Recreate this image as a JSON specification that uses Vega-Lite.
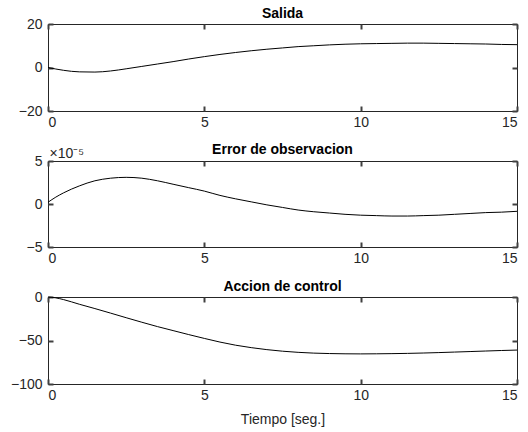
{
  "$schema": "https://vega.github.io/schema/vega-lite/v6.json",
  "background": "white",
  "autosize": {"type": "pad"},
  "padding": {"left": 9, "top": 6, "right": 6, "bottom": 4},
  "bounds": "flush",
  "spacing": 50,
  "config": {
    "view": {"stroke": "#262626", "strokeWidth": 1},
    "font": "Liberation Sans",
    "axis": {
      "grid": false,
      "domain": false,
      "ticks": true,
      "tickColor": "#404040",
      "tickWidth": 2,
      "tickOpacity": 1,
      "tickSize": 5,
      "offset": -5,
      "labelPadding": 6,
      "labelFont": "Liberation Sans",
      "labelFontSize": 14,
      "labelColor": "#262626",
      "titleFont": "Liberation Sans",
      "titleFontSize": 14,
      "titleFontWeight": "normal",
      "titleColor": "#262626"
    },
    "axisBottom": {"labelPadding": 4},
    "title": {"font": "Liberation Sans", "fontSize": 14, "fontWeight": "bold", "color": "black", "offset": -4},
    "line": {"color": "black", "strokeWidth": 1, "interpolate": "monotone"}
  },
  "datasets": {
    "d": [
      {"t": 0, "salida": 0, "error": 0.2, "control": 0},
      {"t": 0.25, "salida": -0.7, "error": 0.8, "control": -1},
      {"t": 0.5, "salida": -1.3, "error": 1.3, "control": -3},
      {"t": 1, "salida": -2.0, "error": 2.1, "control": -8.3},
      {"t": 1.5, "salida": -2.1, "error": 2.7, "control": -13.3},
      {"t": 2, "salida": -1.6, "error": 3.0, "control": -18.5},
      {"t": 2.5, "salida": -0.6, "error": 3.1, "control": -23.8},
      {"t": 3, "salida": 0.5, "error": 3.0, "control": -29.0},
      {"t": 3.5, "salida": 1.6, "error": 2.7, "control": -34},
      {"t": 4, "salida": 2.7, "error": 2.3, "control": -38.6},
      {"t": 4.5, "salida": 3.9, "error": 1.9, "control": -43.2},
      {"t": 5, "salida": 5.0, "error": 1.5, "control": -47.6},
      {"t": 5.5, "salida": 6.0, "error": 1.0, "control": -51.8},
      {"t": 6, "salida": 6.9, "error": 0.6, "control": -55.4},
      {"t": 6.5, "salida": 7.7, "error": 0.25, "control": -58.2},
      {"t": 7, "salida": 8.4, "error": -0.1, "control": -60.5},
      {"t": 7.5, "salida": 9.0, "error": -0.4, "control": -62.3},
      {"t": 8, "salida": 9.6, "error": -0.7, "control": -63.6},
      {"t": 8.5, "salida": 10.0, "error": -0.9, "control": -64.5},
      {"t": 9, "salida": 10.4, "error": -1.05, "control": -65},
      {"t": 9.5, "salida": 10.7, "error": -1.2, "control": -65.3},
      {"t": 10, "salida": 10.9, "error": -1.3, "control": -65.4},
      {"t": 10.5, "salida": 11.0, "error": -1.35, "control": -65.3},
      {"t": 11, "salida": 11.1, "error": -1.4, "control": -65.1},
      {"t": 11.5, "salida": 11.2, "error": -1.4, "control": -64.8},
      {"t": 12, "salida": 11.2, "error": -1.35, "control": -64.4},
      {"t": 12.5, "salida": 11.1, "error": -1.3, "control": -63.9},
      {"t": 13, "salida": 11.0, "error": -1.2, "control": -63.3},
      {"t": 13.5, "salida": 10.9, "error": -1.1, "control": -62.7},
      {"t": 14, "salida": 10.8, "error": -1.0, "control": -62.1},
      {"t": 14.5, "salida": 10.6, "error": -0.95, "control": -61.5},
      {"t": 15, "salida": 10.5, "error": -0.85, "control": -61}
    ]
  },
  "vconcat": [
    {
      "title": "Salida",
      "width": 469, "height": 87,
      "data": {"name": "d"},
      "layer": [
        {"mark": "line",
         "encoding": {
           "x": {"field": "t", "type": "quantitative", "scale": {"domain": [0, 15], "nice": false}, "axis": {"orient": "bottom", "values": [0, 5, 10, 15], "title": null}},
           "y": {"field": "salida", "type": "quantitative", "scale": {"domain": [-20, 20], "nice": false}, "axis": {"orient": "left", "values": [-20, 0, 20], "title": null}}
         }},
        {"mark": {"type": "line", "opacity": 0},
         "encoding": {
           "x": {"field": "t", "type": "quantitative", "axis": {"orient": "top", "values": [0, 5, 10, 15], "labels": false, "title": null}},
           "y": {"field": "salida", "type": "quantitative", "axis": {"orient": "right", "values": [-20, 0, 20], "labels": false, "title": null}}
         }}
      ],
      "resolve": {"axis": {"x": "independent", "y": "independent"}}
    },
    {
      "title": {"text": "Error de observacion", "offset": -11},
      "width": 469, "height": 86,
      "data": {"name": "d"},
      "layer": [
        {"mark": "line",
         "encoding": {
           "x": {"field": "t", "type": "quantitative", "scale": {"domain": [0, 15], "nice": false}, "axis": {"orient": "bottom", "values": [0, 5, 10, 15], "title": null}},
           "y": {"field": "error", "type": "quantitative", "scale": {"domain": [-5, 5], "nice": false}, "axis": {"orient": "left", "values": [-5, 0, 5], "title": "×10⁻⁵", "titleAngle": 0, "titleAlign": "left", "titleBaseline": "alphabetic", "titleX": -4, "titleY": -4, "titleFontSize": 14}}
         }},
        {"mark": {"type": "line", "opacity": 0},
         "encoding": {
           "x": {"field": "t", "type": "quantitative", "axis": {"orient": "top", "values": [0, 5, 10, 15], "labels": false, "title": null}},
           "y": {"field": "error", "type": "quantitative", "axis": {"orient": "right", "values": [-5, 0, 5], "labels": false, "title": null}}
         }}
      ],
      "resolve": {"axis": {"x": "independent", "y": "independent"}}
    },
    {
      "title": "Accion de control",
      "width": 469, "height": 87,
      "data": {"name": "d"},
      "layer": [
        {"mark": "line",
         "encoding": {
           "x": {"field": "t", "type": "quantitative", "scale": {"domain": [0, 15], "nice": false}, "axis": {"orient": "bottom", "values": [0, 5, 10, 15], "title": "Tiempo [seg.]", "titlePadding": 10}},
           "y": {"field": "control", "type": "quantitative", "scale": {"domain": [-100, 0], "nice": false}, "axis": {"orient": "left", "values": [-100, -50, 0], "title": null}}
         }},
        {"mark": {"type": "line", "opacity": 0},
         "encoding": {
           "x": {"field": "t", "type": "quantitative", "axis": {"orient": "top", "values": [0, 5, 10, 15], "labels": false, "title": null}},
           "y": {"field": "control", "type": "quantitative", "axis": {"orient": "right", "values": [-100, -50, 0], "labels": false, "title": null}}
         }}
      ],
      "resolve": {"axis": {"x": "independent", "y": "independent"}}
    }
  ]
}
